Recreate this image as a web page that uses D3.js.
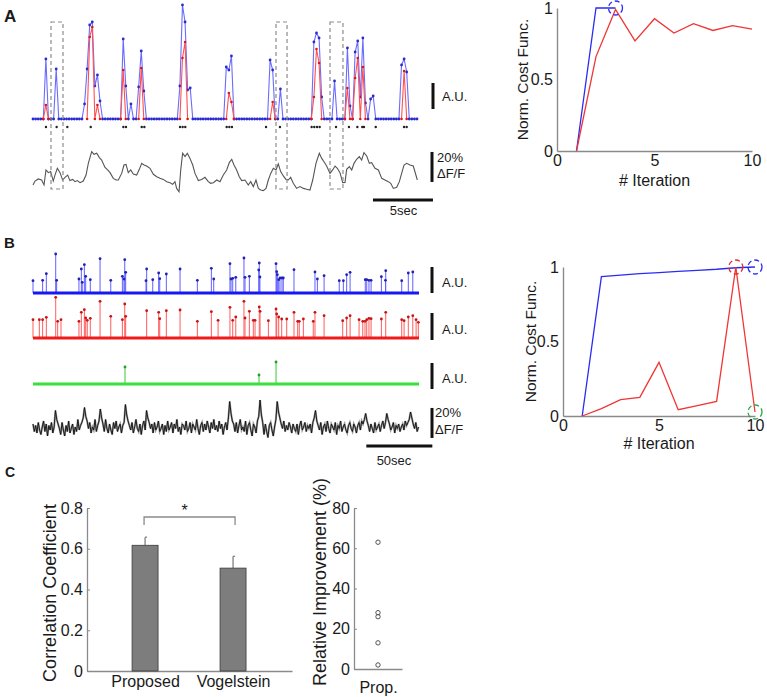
<!DOCTYPE html>
<html><head><meta charset="utf-8">
<script src="https://cdn.jsdelivr.net/npm/d3@7"></script>
<style>
body{margin:0;background:#fff}
svg{display:block}
text{font-family:"Liberation Sans",Arial,Helvetica,sans-serif;fill:#1a1a1a}
</style></head>
<body><svg id="c" width="767" height="697"></svg>
<script>
// ================= DATA =================
// Panel A (left): estimated spike trains, 150 samples over 32 s; [sample index, amplitude (A.U.)]
const nSamplesA = 150;
const durationA = 32;
const spikesABlue = [[5,60],[9,50],[20,15],[21,50],[22,94],[23,97],[24,33],[25,44],[26,18],[35,80],[36,33],[38,15],
  [41,32],[42,68],[43,28],[57,33],[58,114],[59,97],[60,29],[61,31],[75,52],[76,49],[77,63],[92,59],[93,49],[96,30],
  [109,77],[110,86],[111,81],[112,22],[117,38],[122,71],[123,13],[125,67],[126,78],[127,22],[128,81],[129,16],
  [131,20],[132,23],[143,54],[144,60],[145,47]];
const spikesARed = [[5,14],[22,82],[23,92],[25,14],[35,49],[42,51],[58,61],[59,77],[76,26],[77,17],[93,17],
  [109,22],[110,70],[111,56],[122,31],[125,41],[126,61],[128,52],[144,48]];
// ground-truth spike times (s)
const trueSpikesA = [1.08,1.97,2.86,4.81,7.53,7.75,9.06,9.28,12.25,12.47,12.69,16.14,16.36,16.58,19.42,20.58,
  23.22,23.44,23.67,23.89,25.25,26.33,27.03,27.44,27.58,28.56,30.92,31.14];
// highlighted windows (s)
const boxesA = [[1.5,2.5],[20.25,21.17],[24.75,25.83]];
// fluorescence trace A: [time (s), dF/F (%)]
const traceA = [[0,4.7],[0.17,7.3],[0.44,8.7],[0.72,8.0],[0.92,4.7],[1.08,14.7],[1.28,12.9],[1.47,13.6],[1.69,7.3],
 [1.83,11.3],[2.03,15.8],[2.25,12.9],[2.47,8.0],[2.67,9.8],[2.89,11.3],[3.08,7.6],[3.31,8.4],[3.5,6.9],[3.69,7.6],
 [3.92,6.2],[4.19,7.3],[4.42,11.3],[4.61,19.1],[4.89,26.9],[5.08,25.1],[5.31,25.8],[5.53,22.9],[5.72,21.3],[6.0,16.4],
 [6.22,14.7],[6.42,12.9],[6.69,9.1],[6.92,8.0],[7.11,8.0],[7.39,12.4],[7.58,18.0],[7.75,18.4],[7.94,12.9],[8.14,14.7],
 [8.36,12.0],[8.64,11.3],[8.86,15.1],[9.06,19.1],[9.25,18.0],[9.47,17.3],[9.75,15.8],[10.03,11.8],[10.31,10.2],
 [10.58,9.1],[10.86,8.4],[11.14,6.9],[11.42,6.2],[11.64,5.1],[11.83,6.9],[11.97,2.4],[12.17,0.2],[12.31,14.7],
 [12.47,25.8],[12.67,23.6],[12.86,25.8],[13.08,22.4],[13.31,18.0],[13.5,12.4],[13.78,7.6],[14.06,8.4],[14.33,9.8],
 [14.61,6.9],[14.81,5.8],[15.03,6.2],[15.31,8.0],[15.58,6.9],[15.86,11.3],[16.14,14.7],[16.36,19.6],[16.56,21.8],
 [16.75,18.0],[16.97,14.7],[17.19,10.2],[17.39,7.6],[17.67,8.0],[17.94,4.7],[18.14,6.9],[18.36,3.6],[18.58,8.0],
 [18.78,2.4],[18.97,1.3],[19.19,0.9],[19.42,2.4],[19.61,8.0],[19.81,12.4],[20.03,15.8],[20.25,14.7],[20.44,18.7],
 [20.64,13.6],[20.86,10.7],[21.08,8.4],[21.28,8.0],[21.47,9.8],[21.69,5.8],[21.97,2.4],[22.25,3.6],[22.53,2.4],
 [22.81,1.8],[23.08,1.3],[23.31,8.0],[23.58,19.1],[23.86,25.8],[24.06,22.4],[24.25,20.2],[24.47,17.3],[24.75,12.4],
 [24.97,14.7],[25.17,17.3],[25.36,15.8],[25.58,12.9],[25.81,6.2],[26.0,6.4],[26.14,15.1],[26.36,16.9],[26.56,14.7],
 [26.75,19.1],[26.97,21.8],[27.19,23.6],[27.39,21.3],[27.58,26.2],[27.81,24.0],[28.03,19.1],[28.22,19.6],[28.5,15.8],
 [28.78,14.7],[29.06,9.1],[29.33,8.0],[29.61,6.9],[29.81,5.8],[30.03,2.4],[30.31,3.1],[30.53,6.9],[30.72,12.4],
 [30.92,18.0],[31.14,19.1],[31.42,18.0],[31.69,17.3],[32.03,8.0]];

// Panel B (left): [time (s), amplitude (A.U.)]
const durationB = 292.4;
const spikesBBlue = [[0,12.3],[7.3,12.7],[10.1,19.3],[17.2,39],[17.9,12.7],[34.8,14],[36.6,24],[37.3,10.7],[38.9,28.3],
 [39.9,16.7],[43.4,13.3],[50.8,34.3],[58.9,12.7],[67.7,16.7],[68.9,14],[69.5,33.3],[70.2,20.7],[85.6,12.3],[86.1,24],
 [90.7,13.3],[95.2,20],[96.0,14.3],[101.0,19],[111.4,24],[124.5,12.7],[135.1,24.7],[136.9,14],[149.2,29.3],[150.0,14],
 [151.3,14.7],[153.6,15.7],[159.8,35],[160.6,15.7],[163.9,16.7],[171.0,23],[171.4,30],[171.9,16],[184.1,29.3],
 [184.6,21.3],[185.1,18.3],[186.1,13.3],[187.1,15],[188.6,15],[189.6,15],[197.7,23.3],[213.6,21],[215.4,14],
 [220.5,17.3],[232.0,12.3],[235.1,12.3],[237.6,18.3],[240.2,20.7],[251.7,13.3],[252.8,13.3],[254.5,12.7],[256.1,12.7],
 [263.9,16.3],[267.0,12.7],[267.2,22.3],[279.3,12.3],[284.3,20],[287.7,21]];
const spikesBRed = [[0,18.3],[4.8,18.3],[7.3,18.3],[10.1,20.7],[17.2,40.7],[18.7,16.7],[21.2,18.3],[34.8,16.7],[36.6,25.7],
 [38.9,28.3],[39.9,20],[41.1,17.7],[43.4,19.7],[50.8,36.7],[58.9,21.7],[67.7,18.3],[69.5,34],[70.2,21.7],[86.1,27.3],
 [95.2,25.7],[96.0,19.3],[101.0,27.3],[111.4,28],[124.5,16.7],[135.1,26.3],[140.2,17.7],[149.2,30.7],[151.3,17.7],
 [153.6,21],[159.8,36.7],[160.6,20],[163.9,26.7],[166.9,17.7],[168.2,17.7],[171.4,31],[172.0,26.7],[178.3,17.3],
 [184.1,29],[184.6,24],[186.1,21],[188.4,19],[192.2,19],[197.7,25.7],[200.5,16.7],[201.7,16.7],[204.8,19],[212.3,16.7],
 [213.6,25.7],[220.5,22.3],[234.6,17.3],[237.6,20],[240.2,22.3],[247.0,18.3],[249.8,16.7],[251.5,16.7],[252.8,18.3],
 [254.5,19.7],[256.1,19.3],[263.9,19],[267.2,25.7],[279.3,18.3],[281.1,17.3],[284.3,21],[287.7,22.3],[290.2,18.3],[291.9,15.7]];
const spikesBGreen = [[69.7,17],[171.2,9],[184.1,22]];
// fluorescence trace B: dF/F (%), one sample per second
const traceB = [2,-3,1,-4,3,-2,-5,0,4,-3,2,-6,1,-2,3,-4,0,11,5,2,
 -1,-5,3,-2,-6,1,-3,4,-4,-1,2,-5,0,-3,5,-2,1,3,6,13,
 7,4,-1,3,-4,0,-2,5,-3,1,4,12,6,2,-3,5,-1,-4,2,-2,
 -5,3,-1,4,-3,0,2,-4,1,3,15,8,4,1,-2,3,-4,0,5,-1,
 -3,2,-5,1,4,-2,11,6,3,-1,2,-4,3,-2,0,4,-3,-1,2,-5,
 1,-3,4,-2,0,3,-4,2,-1,5,-3,0,-5,2,1,-2,4,-3,-1,3,
 -4,2,0,-2,5,-1,-5,1,3,-3,2,-2,4,0,-4,3,-1,5,-2,1,
 -3,4,-1,2,-5,0,3,-2,6,17,9,4,2,-3,3,-4,1,5,-2,0,
 -3,4,-5,1,3,-2,-6,2,0,-4,4,7,18,8,3,-5,2,-3,-7,1,
 3,-2,-6,0,5,17,10,6,2,-1,4,-3,1,-2,3,0,-4,2,-1,-3,
 2,-5,1,4,-2,0,3,-3,1,-1,2,-4,3,6,11,4,1,-2,3,-5,
 0,2,-3,4,-1,-4,2,0,-2,3,-5,1,-1,4,-3,0,2,-2,-4,1,
 3,-1,-3,2,0,-4,1,3,-2,4,2,5,9,4,1,-3,2,-1,-4,3,
 -2,0,2,-3,1,4,-1,3,9,5,2,-2,0,3,-4,1,-1,2,-3,0,
 2,-2,4,1,3,5,10,6,2,-1,3,-3,0];

// Cost function panels
const iterations = [1,2,3,4,5,6,7,8,9,10];
const costABlue = [0,1,1];
const costARed = [0,0.66,0.99,0.77,0.925,0.825,0.89,0.843,0.876,0.853];
const costBBlue = [0,0.935,0.945,0.955,0.962,0.97,0.978,0.985,0.995,1.0];
const costBRed = [0,0.05,0.11,0.125,0.36,0.042,0.07,0.098,1.0,0.027];
const costTicksY = [0,0.5,1];
const costTicksX = [0,5,10];

// Panel C
const methods = ['Proposed','Vogelstein'];
const corrMean = [0.617,0.505];
const corrErr = [0.040,0.058];
const corrTicks = [0,0.2,0.4,0.6,0.8];
const relImprovement = [63,28,26,13,2];
const relTicks = [0,20,40,60,80];

// ================= DRAW =================
const svg = d3.select('#c');
const FONT = '"Liberation Sans",Arial,sans-serif';

function panelLabel(txt, x, y, size){
  svg.append('text').attr('x',x).attr('y',y).attr('font-size',size).attr('font-weight','bold').text(txt);
}
function vbar(x, y1, y2){ svg.append('line').attr('x1',x).attr('x2',x).attr('y1',y1).attr('y2',y2).attr('stroke','#111').attr('stroke-width',3); }
function hbar(x1, x2, y){ svg.append('line').attr('x1',x1).attr('x2',x2).attr('y1',y).attr('y2',y).attr('stroke','#111').attr('stroke-width',3); }
function label(txt, x, y, size, anchor){ return svg.append('text').attr('x',x).attr('y',y).attr('font-size',size).attr('text-anchor',anchor||'start').text(txt); }

// ---------- Panel A left ----------
panelLabel('A', 4, 22, 17);
const xA = d3.scaleLinear().domain([0, durationA]).range([33, 417]);
const yA = d3.scaleLinear().domain([0, 114]).range([119, 5]);
const dtA = durationA/(nSamplesA-1);
const blueA = d3.range(nSamplesA).map(()=>0); spikesABlue.forEach(([i,v])=>blueA[i]=v);
const redA = d3.range(nSamplesA).map(()=>0); spikesARed.forEach(([i,v])=>redA[i]=v);
const gA = svg.append('g');
gA.append('path').attr('d', d3.line().x((d,i)=>xA(i*dtA)).y(d=>yA(d))(blueA))
  .attr('fill','none').attr('stroke','#6b6bff').attr('stroke-width',1.1);
gA.selectAll('.bd').data(blueA).join('circle').attr('cx',(d,i)=>xA(i*dtA)).attr('cy',d=>yA(d)).attr('r',1.4).attr('fill','#2a2ad0');
const redDef = (d,i)=> redA[i]>0 || (i>0 && redA[i-1]>0) || (i<nSamplesA-1 && redA[i+1]>0);
gA.append('path').attr('d', d3.line().defined(redDef).x((d,i)=>xA(i*dtA)).y(d=>yA(d))(redA))
  .attr('fill','none').attr('stroke','#ff5050').attr('stroke-width',1.1);
gA.selectAll('.rd').data(redA.map((d,i)=>[i,d]).filter(([i,d])=>redDef(d,i))).join('circle')
  .attr('cx',d=>xA(d[0]*dtA)).attr('cy',d=>yA(d[1])).attr('r',1.3).attr('fill','#e01515');
gA.selectAll('.ts').data(trueSpikesA).join('circle').attr('cx',d=>xA(d)).attr('cy',127).attr('r',1.2).attr('fill','#222');
// trace
const yTA = d3.scaleLinear().domain([0,20]).range([192,162]);
gA.append('path').attr('d', d3.line().x(d=>xA(d[0])).y(d=>yTA(d[1]))(traceA))
  .attr('fill','none').attr('stroke','#555').attr('stroke-width',1.1);
// dashed boxes
gA.selectAll('.bx').data(boxesA).join('rect').attr('x',d=>xA(d[0])).attr('width',d=>xA(d[1])-xA(d[0]))
  .attr('y',22).attr('height',167).attr('fill','none').attr('stroke','#8c8c8c').attr('stroke-width',1.2).attr('stroke-dasharray','4,3');
// scale bars
vbar(433, yA(10), yA(36)); label('A.U.', 442, 101, 13);
vbar(432, yTA(6.7), yTA(26.7)); label('20%', 437, 162, 13); label('ΔF/F', 437, 178, 13);
hbar(xA(28.33), xA(33.33), 200); label('5sec', 403.5, 215, 13, 'middle');

// ---------- Panel B left ----------
panelLabel('B', 4, 248, 15);
const xB = d3.scaleLinear().domain([0, durationB]).range([33, 419]);
function track(data, base, cBase, cStem, cDot, bar){
  const y = d3.scaleLinear().domain([0,40]).range([base, base-40]);
  const g = svg.append('g');
  g.selectAll('line.s').data(data).join('line').attr('x1',d=>xB(d[0])).attr('x2',d=>xB(d[0]))
    .attr('y1',y(0)).attr('y2',d=>y(d[1])).attr('stroke',cStem).attr('stroke-width',1);
  g.append('line').attr('x1',xB(0)).attr('x2',xB(durationB)).attr('y1',y(0)).attr('y2',y(0)).attr('stroke',cBase).attr('stroke-width',3);
  g.selectAll('circle').data(data).join('circle').attr('cx',d=>xB(d[0])).attr('cy',d=>y(d[1])).attr('r',1.4).attr('fill',cDot);
  vbar(432, y(bar[0]), y(bar[1])); label('A.U.', 442, y(bar[0])-6, 13);
}
track(spikesBBlue, 293, '#1717f2', '#6060ff', '#2020b8', [0,26]);
track(spikesBRed, 338, '#f01a1a', '#ff5c5c', '#c81414', [-2,25]);
track(spikesBGreen, 384, '#3ae03a', '#33cc33', '#20a020', [-5,21]);
const yTB = d3.scaleLinear().domain([0,20]).range([427,397]);
const lineB = d3.line().x((d,i)=>xB(i)).y(d=>yTB(d));
svg.append('path').attr('d', lineB(traceB)).attr('fill','none').attr('stroke','#9a9a9a').attr('stroke-width',2);
svg.append('path').attr('d', lineB(traceB)).attr('fill','none').attr('stroke','#111').attr('stroke-width',0.9);
vbar(432, yTB(-7.3), yTB(12.7)); label('20%', 435, 417, 13); label('ΔF/F', 435, 434, 13);
hbar(xB(252.5), xB(302.5), 446); label('50sec', 394, 465, 13, 'middle');

// ---------- Cost panels ----------
function costPanel(o){
  const x = d3.scaleLinear().domain([0,10]).range([o.x0,o.x1]);
  const y = d3.scaleLinear().domain([0,1]).range([o.y0,o.y1]);
  const g = svg.append('g');
  const ax = g.append('g').attr('transform',`translate(0,${o.y0})`)
    .call(d3.axisBottom(x).tickValues(costTicksX).tickSizeInner(0).tickSizeOuter(0).tickPadding(4));
  const ay = g.append('g').attr('transform',`translate(${o.x0},0)`)
    .call(d3.axisLeft(y).tickValues(costTicksY).tickFormat(d3.format('')).tickSizeInner(0).tickSizeOuter(0).tickPadding(4));
  [ax,ay].forEach(a=>{ a.select('.domain').attr('stroke','#8a8a8a').attr('stroke-width',1.4);
    a.selectAll('text').attr('font-size',16).attr('font-family',FONT).attr('fill','#222'); });
  o.series.forEach(s=>{
    g.append('path').attr('d', d3.line()(s.v.map((v,i)=>[x(iterations[i]), y(v)])))
      .attr('fill','none').attr('stroke',s.c).attr('stroke-width',1.3);
  });
  o.circles.forEach(c=>{
    g.append('circle').attr('cx',x(c[0])).attr('cy',y(c[1])).attr('r',7).attr('fill','none')
      .attr('stroke',c[2]).attr('stroke-width',1.3).attr('stroke-dasharray','5,3');
  });
  g.append('text').attr('x',(o.x0+o.x1)/2).attr('y',o.y0+o.xlabDy).attr('text-anchor','middle').attr('font-size',16).text('# Iteration');
  g.append('text').attr('transform',`translate(${o.ylabX},${(o.y0+o.y1)/2}) rotate(-90)`).attr('text-anchor','middle')
    .attr('font-size',15.5).text('Norm. Cost Func.');
}
costPanel({x0:557,x1:752,y0:151,y1:8, xlabDy:35, ylabX:528,
  series:[{v:costABlue,c:'#2b2bf5'},{v:costARed,c:'#f03535'}],
  circles:[[3,1,'#2b2bf5']]});
costPanel({x0:563,x1:755,y0:416,y1:267, xlabDy:33, ylabX:536,
  series:[{v:costBBlue,c:'#2b2bf5'},{v:costBRed,c:'#f03535'}],
  circles:[[9,1,'#e03030'],[10,1,'#2b2bf5'],[10,costBRed[9],'#2aa84a']]});

// ---------- Panel C ----------
panelLabel('C', 5, 477, 14);
const xC = d3.scaleLinear().domain([0.34,2.67]).range([87,292]);
const yC = d3.scaleLinear().domain([0,0.8]).range([671,508]);
const gC = svg.append('g');
const axC = gC.append('g').attr('transform','translate(0,671)')
  .call(d3.axisBottom(xC).tickValues([1,2]).tickFormat((d,i)=>methods[i]).tickSizeInner(0).tickSizeOuter(0).tickPadding(5));
const ayC = gC.append('g').attr('transform','translate(87,0)')
  .call(d3.axisLeft(yC).tickValues(corrTicks).tickFormat(d3.format('')).tickSizeInner(-3).tickSizeOuter(0).tickPadding(4));
[axC,ayC].forEach(a=>{ a.select('.domain').attr('stroke','#8a8a8a').attr('stroke-width',1.3);
  a.selectAll('line').attr('stroke','#8a8a8a');
  a.selectAll('text').attr('font-size',16).attr('font-family',FONT).attr('fill','#222'); });
methods.forEach((m,i)=>{
  const cx = xC(i+1);
  gC.append('line').attr('x1',cx).attr('x2',cx).attr('y1',yC(corrMean[i])).attr('y2',yC(corrMean[i]+corrErr[i]))
    .attr('stroke','#777').attr('stroke-width',1.2);
  gC.append('line').attr('x1',cx).attr('x2',cx+2).attr('y1',yC(corrMean[i]+corrErr[i])).attr('y2',yC(corrMean[i]+corrErr[i]))
    .attr('stroke','#777').attr('stroke-width',1.2);
  gC.append('rect').attr('x',cx-13).attr('width',26).attr('y',yC(corrMean[i])).attr('height',yC(0)-yC(corrMean[i]))
    .attr('fill','#7d7d7d').attr('stroke','#3a3a3a').attr('stroke-width',0.8);
});
gC.append('path').attr('d',`M${xC(1)-1},525V517H${xC(2)+2}V525`).attr('fill','none').attr('stroke','#8a8a8a').attr('stroke-width',1.3);
gC.append('text').attr('x',xC(1.45)).attr('y',516).attr('text-anchor','middle').attr('font-size',16).text('*');
gC.append('text').attr('transform','translate(56,593) rotate(-90)').attr('text-anchor','middle').attr('font-size',18).text('Correlation Coefficient');

const xR = d3.scaleLinear().domain([0.5,1.5]).range([354,402]);
const yR = d3.scaleLinear().domain([0,80]).range([669,508]);
const axR = gC.append('g').attr('transform','translate(0,669)')
  .call(d3.axisBottom(xR).tickValues([1]).tickFormat(()=> 'Prop.').tickSizeInner(0).tickSizeOuter(0).tickPadding(13));
const ayR = gC.append('g').attr('transform','translate(354,0)')
  .call(d3.axisLeft(yR).tickValues(relTicks).tickSizeInner(-3).tickSizeOuter(0).tickPadding(4));
[axR,ayR].forEach(a=>{ a.select('.domain').attr('stroke','#8a8a8a').attr('stroke-width',1.3);
  a.selectAll('line').attr('stroke','#8a8a8a');
  a.selectAll('text').attr('font-size',16).attr('font-family',FONT).attr('fill','#222'); });
gC.selectAll('.ri').data(relImprovement).join('circle').attr('cx',xR(1)).attr('cy',d=>yR(d)).attr('r',2.2)
  .attr('fill','none').attr('stroke','#555').attr('stroke-width',1);
gC.append('text').attr('transform','translate(326,582) rotate(-90)').attr('text-anchor','middle').attr('font-size',18).text('Relative Improvement (%)');
</script></body></html>
